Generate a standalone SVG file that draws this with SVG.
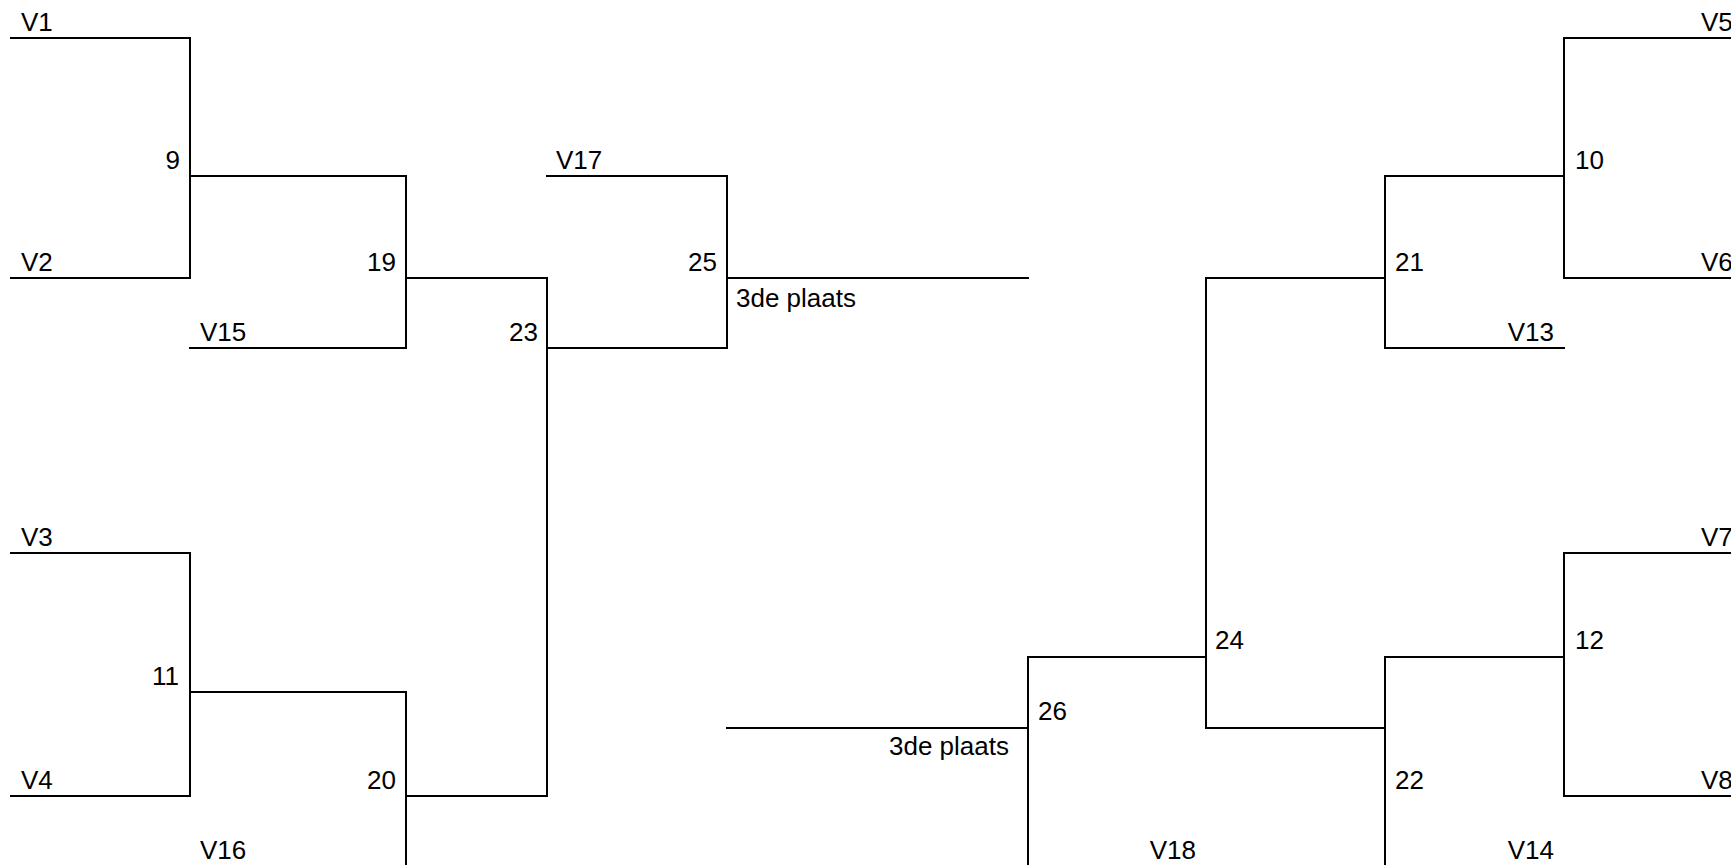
<svg xmlns="http://www.w3.org/2000/svg" width="1731" height="865" viewBox="0 0 1731 865">
<style>
.ln{fill:none;stroke:#000;stroke-width:2;stroke-linecap:square}
text{font-family:"Liberation Sans",Arial,sans-serif;font-size:26px;fill:#000}
.e{text-anchor:end}
</style>
<rect width="1731" height="865" fill="#fff"/>
<g id="connectors" class="ln">
<path d="M11 38H190V278H11"/>
<path d="M190 176H406V348H190"/>
<path d="M406 278H547V796H406"/>
<path d="M547 176H727V348H547"/>
<path d="M727 278H1028"/>
<path d="M11 553H190V796H11"/>
<path d="M190 692H406V866"/>
<path d="M1731 38H1564V278H1731"/>
<path d="M1564 176H1385V348H1564"/>
<path d="M1385 278H1206V728H1385"/>
<path d="M1731 553H1564V796H1731"/>
<path d="M1564 657H1385V866"/>
<path d="M1206 657H1028V866"/>
<path d="M727 728H1028"/>
</g>
<g id="n9"><text class="e" x="180" y="169">9</text></g>
<g id="n10"><text x="1575" y="169">10</text></g>
<g id="n11"><text class="e" x="179" y="685">11</text></g>
<g id="n12"><text x="1575" y="649">12</text></g>
<g id="n19"><text class="e" x="396" y="271">19</text></g>
<g id="n20"><text class="e" x="396" y="789">20</text></g>
<g id="n21"><text x="1395" y="271">21</text></g>
<g id="n22"><text x="1395" y="789">22</text></g>
<g id="n23"><text class="e" x="538" y="341">23</text></g>
<g id="n24"><text x="1215" y="649">24</text></g>
<g id="n25"><text class="e" x="717" y="271">25</text><text x="736" y="307">3de plaats</text></g>
<g id="n26"><text x="1038" y="720">26</text><text class="e" x="1009" y="755">3de plaats</text></g>
<g id="teams">
<text x="21" y="31">V1</text>
<text x="21" y="271">V2</text>
<text x="21" y="546">V3</text>
<text x="21" y="789">V4</text>
<text x="1701" y="31">V5</text>
<text x="1701" y="271">V6</text>
<text x="1701" y="546">V7</text>
<text x="1701" y="789">V8</text>
<text class="e" x="1554" y="341">V13</text>
<text class="e" x="1554" y="859">V14</text>
<text x="200" y="341">V15</text>
<text x="200" y="859">V16</text>
<text x="556" y="169">V17</text>
<text class="e" x="1196" y="859">V18</text>
</g>
</svg>
